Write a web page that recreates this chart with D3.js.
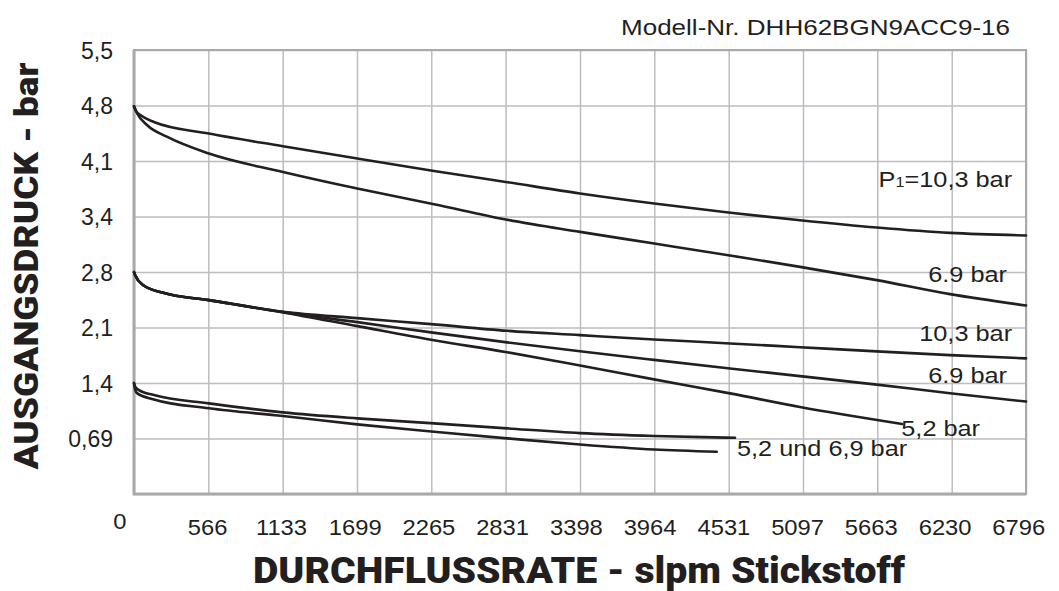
<!DOCTYPE html>
<html>
<head>
<meta charset="utf-8">
<script src="https://cdnjs.cloudflare.com/ajax/libs/d3/7.8.5/d3.min.js"></script>
<style>
  body { margin: 0; background: #fff; }
  svg { display: block; }
</style>
</head>
<body>
<svg id="chart" width="1059" height="591"></svg>
<script>
"use strict";

// flow rate (slpm nitrogen) tick labels and outlet pressure (bar) tick labels
const xTickLabels = ["0", "566", "1133", "1699", "2265", "2831", "3398", "3964", "4531", "5097", "5663", "6230", "6796"];
const yTickLabels = ["0", "0,69", "1,4", "2,1", "2,8", "3,4", "4,1", "4,8", "5,5"];
const yTickValues = [0, 0.69, 1.38, 2.07, 2.76, 3.45, 4.14, 4.83, 5.52];

// [flow, outlet pressure]
const top103 = [[0, 4.82], [15, 4.76], [51, 4.708], [152, 4.625], [571, 4.481], [1135, 4.323], [1701, 4.170], [2286, 4.016],
    [2832, 3.880], [3398, 3.736], [3964, 3.611], [4528, 3.500], [5074, 3.404], [5659, 3.313], [6217, 3.246], [6796, 3.214]];
const top69 = [[0, 4.82], [25, 4.729], [101, 4.584], [254, 4.439], [571, 4.232], [1135, 4.004], [1701, 3.798], [2286, 3.603],
    [2832, 3.413], [3398, 3.259], [3964, 3.114], [4528, 2.969], [5074, 2.824], [5659, 2.659], [6217, 2.485], [6796, 2.344]];
const mid103 = [[0, 2.758], [9, 2.72], [71, 2.596], [223, 2.501], [571, 2.410], [1135, 2.265], [1701, 2.186], [2263, 2.112],
    [2842, 2.029], [3398, 1.975], [3962, 1.921], [4541, 1.872], [5074, 1.825], [5659, 1.773], [6217, 1.727], [6796, 1.686]];
const mid69 = [[0, 2.758], [9, 2.72], [71, 2.596], [223, 2.501], [571, 2.410], [1135, 2.262], [1701, 2.137], [2263, 2.009],
    [2842, 1.885], [3398, 1.774], [3962, 1.667], [4541, 1.560], [5074, 1.466], [5659, 1.360], [6217, 1.253], [6796, 1.149]];
const mid52 = [[0, 2.758], [9, 2.72], [71, 2.596], [223, 2.501], [571, 2.410], [1135, 2.258], [1701, 2.087], [2263, 1.918],
    [2842, 1.763], [3398, 1.598], [3962, 1.425], [4541, 1.251], [5074, 1.081], [5852, 0.870]];
const lowA = [[0, 1.379], [10, 1.33], [38, 1.292], [152, 1.230], [571, 1.127], [1135, 1.015], [1701, 0.940], [2286, 0.878],
    [2842, 0.816], [3398, 0.757], [3962, 0.721], [4579, 0.699]];
const lowB = [[0, 1.379], [8, 1.30], [25, 1.251], [152, 1.176], [571, 1.065], [1135, 0.969], [1701, 0.866], [2286, 0.774],
    [2842, 0.692], [3398, 0.615], [3962, 0.553], [4440, 0.525]];

const series = [top103, top69, mid103, mid69, mid52, lowA, lowB];

const svg = d3.select("#chart");
const plotLeft = 134, plotRight = 1026, plotTop = 50, plotBottom = 494;

const x = d3.scaleLinear().domain([0, 6796]).range([plotLeft, plotRight]);
const y = d3.scaleLinear().domain([0, 5.52]).range([plotBottom, plotTop]);

const gridColor = "#bdbdc1";
const inkColor = "#231f20";
const font = "'Liberation Sans', Arial, sans-serif";

// stretch a text to a given width (the original lettering is a bit wide)
function stretch(sel, k) {
    sel.each(function () {
        const w = this.getComputedTextLength();
        d3.select(this).attr("textLength", w * k).attr("lengthAdjust", "spacingAndGlyphs");
    });
}

// vertical grid
const xGrid = svg.append("g")
    .attr("transform", `translate(0, ${plotBottom})`)
    .call(d3.axisBottom(x).tickValues(xTickLabels.map(Number)).tickSize(-(plotBottom - plotTop)).tickFormat(""));
xGrid.select(".domain").remove();
xGrid.selectAll("line").attr("stroke", gridColor).attr("stroke-width", 1.5);

// horizontal grid + labels
const yAxis = svg.append("g")
    .attr("transform", `translate(${plotLeft}, 0)`)
    .call(d3.axisLeft(y).tickValues(yTickValues).tickSize(-(plotRight - plotLeft)).tickPadding(21)
        .tickFormat((d, i) => i === 0 ? "" : yTickLabels[i]));
yAxis.select(".domain").remove();
yAxis.selectAll("line").attr("stroke", gridColor).attr("stroke-width", 1.5);
yAxis.selectAll("text")
    .attr("font-family", font)
    .attr("font-size", 23)
    .attr("fill", inkColor)
    .attr("dy", "0.36em");

// frame
svg.append("rect")
    .attr("x", plotLeft).attr("y", plotTop)
    .attr("width", plotRight - plotLeft).attr("height", plotBottom - plotTop)
    .attr("fill", "none").attr("stroke", "#a9a9ac").attr("stroke-width", 2);
svg.append("path")
    .attr("d", `M${plotLeft},${plotTop}V${plotBottom}H${plotRight}`)
    .attr("fill", "none").attr("stroke", "#a9a9ac").attr("stroke-width", 3);

// x tick labels
const xLab = svg.append("g").selectAll("text")
    .data(xTickLabels)
    .join("text")
    .attr("x", (d, i) => i === 0 ? x(0) - 14 : x(+d) - 0.6 * i)
    .attr("y", (d, i) => i === 0 ? 529 : 535)
    .attr("text-anchor", "middle")
    .attr("font-family", font)
    .attr("font-size", 22)
    .attr("fill", inkColor)
    .text(d => d);
stretch(xLab, 1.08);

// curves
const line = d3.line()
    .x(d => x(d[0]))
    .y(d => y(d[1]))
    .curve(d3.curveMonotoneX);

svg.append("g").selectAll("path")
    .data(series)
    .join("path")
    .attr("d", line)
    .attr("fill", "none")
    .attr("stroke", inkColor)
    .attr("stroke-width", 2.6)
    .attr("stroke-linecap", "round");

// curve labels (anchored in data units)
const curveLabels = [
    { t: "6.9 bar", fx: 6651, p: 2.637, anchor: "end" },
    { t: "10,3 bar", fx: 6690, p: 1.904, anchor: "end" },
    { t: "6.9 bar", fx: 6651, p: 1.383, anchor: "end" },
    { t: "5,2 bar", fx: 6446, p: 0.721, anchor: "end" },
    { t: "5,2 und 6,9 bar", fx: 4594, p: 0.472, anchor: "start" }
];
const cl = svg.append("g").selectAll("text")
    .data(curveLabels)
    .join("text")
    .attr("x", d => x(d.fx))
    .attr("y", d => y(d.p))
    .attr("text-anchor", d => d.anchor)
    .attr("font-family", font)
    .attr("font-size", 22)
    .attr("fill", inkColor)
    .text(d => d.t);
stretch(cl, 1.15);

const p1 = svg.append("text")
    .attr("x", x(6690))
    .attr("y", y(3.814))
    .attr("text-anchor", "end")
    .attr("font-family", font)
    .attr("font-size", 22)
    .attr("fill", inkColor);
p1.append("tspan").text("P");
p1.append("tspan").attr("font-size", 14).text("1");
p1.append("tspan").text("=10,3 bar");
stretch(p1, 1.15);

// model number
svg.append("text")
    .attr("x", 621).attr("y", 35)
    .attr("font-family", font)
    .attr("font-size", 22)
    .attr("fill", inkColor)
    .attr("textLength", 389).attr("lengthAdjust", "spacingAndGlyphs")
    .text("Modell-Nr. DHH62BGN9ACC9-16");

// axis titles
svg.append("text")
    .attr("x", 579).attr("y", 583)
    .attr("text-anchor", "middle")
    .attr("font-family", "Roboto, 'DejaVu Sans', sans-serif")
    .attr("font-weight", 900)
    .attr("font-size", 36)
    .attr("fill", inkColor)
    .attr("textLength", 652).attr("lengthAdjust", "spacingAndGlyphs")
    .text("DURCHFLUSSRATE - slpm Stickstoff");

svg.append("text")
    .attr("transform", "translate(38, 266) rotate(-90)")
    .attr("text-anchor", "middle")
    .attr("font-family", "Roboto, 'DejaVu Sans', sans-serif")
    .attr("font-weight", 900)
    .attr("font-size", 34)
    .attr("fill", inkColor)
    .attr("textLength", 407).attr("lengthAdjust", "spacingAndGlyphs")
    .text("AUSGANGSDRUCK - bar");
</script>
</body>
</html>
